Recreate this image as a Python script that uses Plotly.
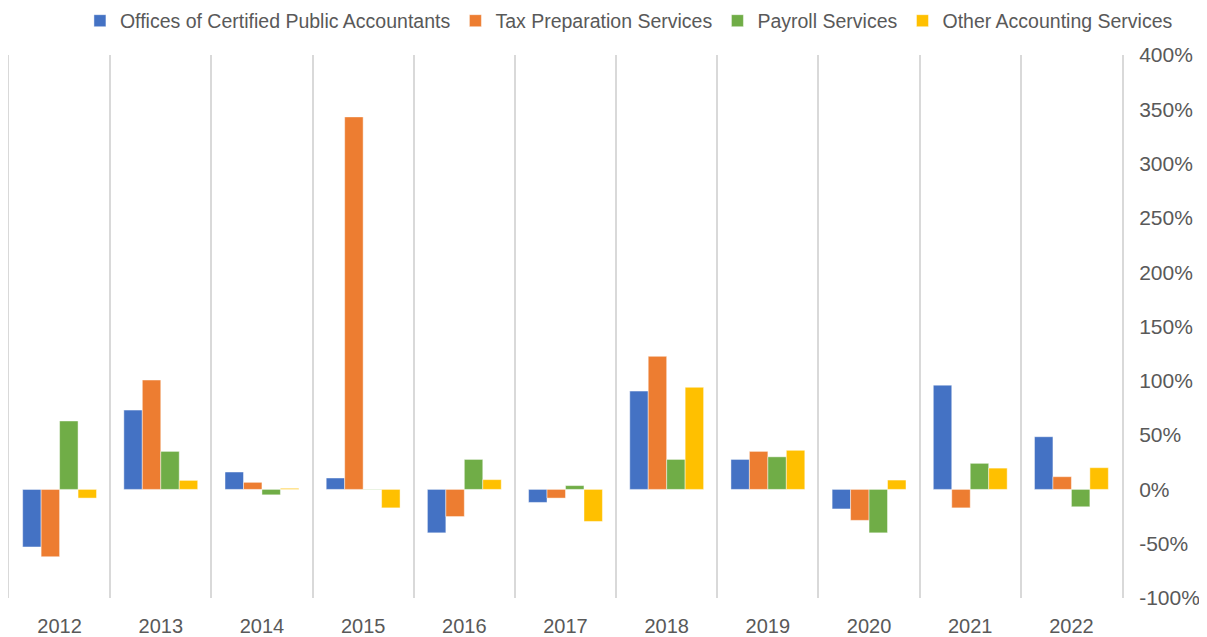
import plotly.graph_objects as go

years = ["2012", "2013", "2014", "2015", "2016", "2017", "2018", "2019", "2020", "2021", "2022"]
cpa = [-53, 73, 16, 10.5, -40, -12, 90.5, 27.6, -18, 96, 48.5]
tax = [-62, 100.7, 6.5, 343, -25, -8, 122.5, 35, -28.5, -17, 11.7]
payroll = [63, 35, -5, 0.3, 27.6, 3.5, 27.6, 30, -40, 24, -16]
other = [-8, 8.3, 1, -17, 9, -29.5, 94, 36, 8.6, 19.6, 20]

series_names = ["Offices of Certified Public Accountants", "Tax Preparation Services",
                "Payroll Services", "Other Accounting Services"]
series_vals = [cpa, tax, payroll, other]
colors = ["#4472C4", "#ED7D31", "#70AD47", "#FFC000"]

y_ticks = list(range(-100, 401, 50))
y_ticktext = [f"{v}%" for v in y_ticks]

fig = go.Figure()
for name, vals, c in zip(series_names, series_vals, colors):
    fig.add_trace(go.Bar(
        x=years, y=vals, name=name,
        marker=dict(color=c, line=dict(color="rgba(255,255,255,0.45)", width=1)),
    ))

W, H = 1199, 629
fig.update_layout(
    width=W, height=H,
    paper_bgcolor="white", plot_bgcolor="white",
    barmode="group", bargap=0.27, bargroupgap=0,
    margin=dict(l=1, r=85, t=47, b=39, autoexpand=False),
    font=dict(family="Liberation Sans, Arial, sans-serif", size=20, color="#595959"),
    legend=dict(orientation="h", x=0.557, xanchor="center",
                yref="container", y=1 - 13 / H, yanchor="middle",
                font=dict(size=19.5, color="#595959"), itemwidth=30,
                traceorder="normal", bgcolor="rgba(0,0,0,0)"),
    xaxis=dict(
        type="category", tickson="boundaries", showgrid=True,
        gridcolor="#d9d9d9", gridwidth=2, ticks="", showline=False,
        zeroline=False, tickfont=dict(size=20, color="#595959"), automargin=False,
        ticklabelstandoff=14,
    ),
    yaxis=dict(
        side="right", range=[-100, 400], tickvals=y_ticks, ticktext=y_ticktext,
        showgrid=False, zeroline=False,
        showline=True, mirror=True, linecolor="#d9d9d9", linewidth=2,
        tickfont=dict(size=21, color="#595959"), ticks="", ticklabelstandoff=11,
        automargin=False,
    ),
)

fig.write_html("out.html")
